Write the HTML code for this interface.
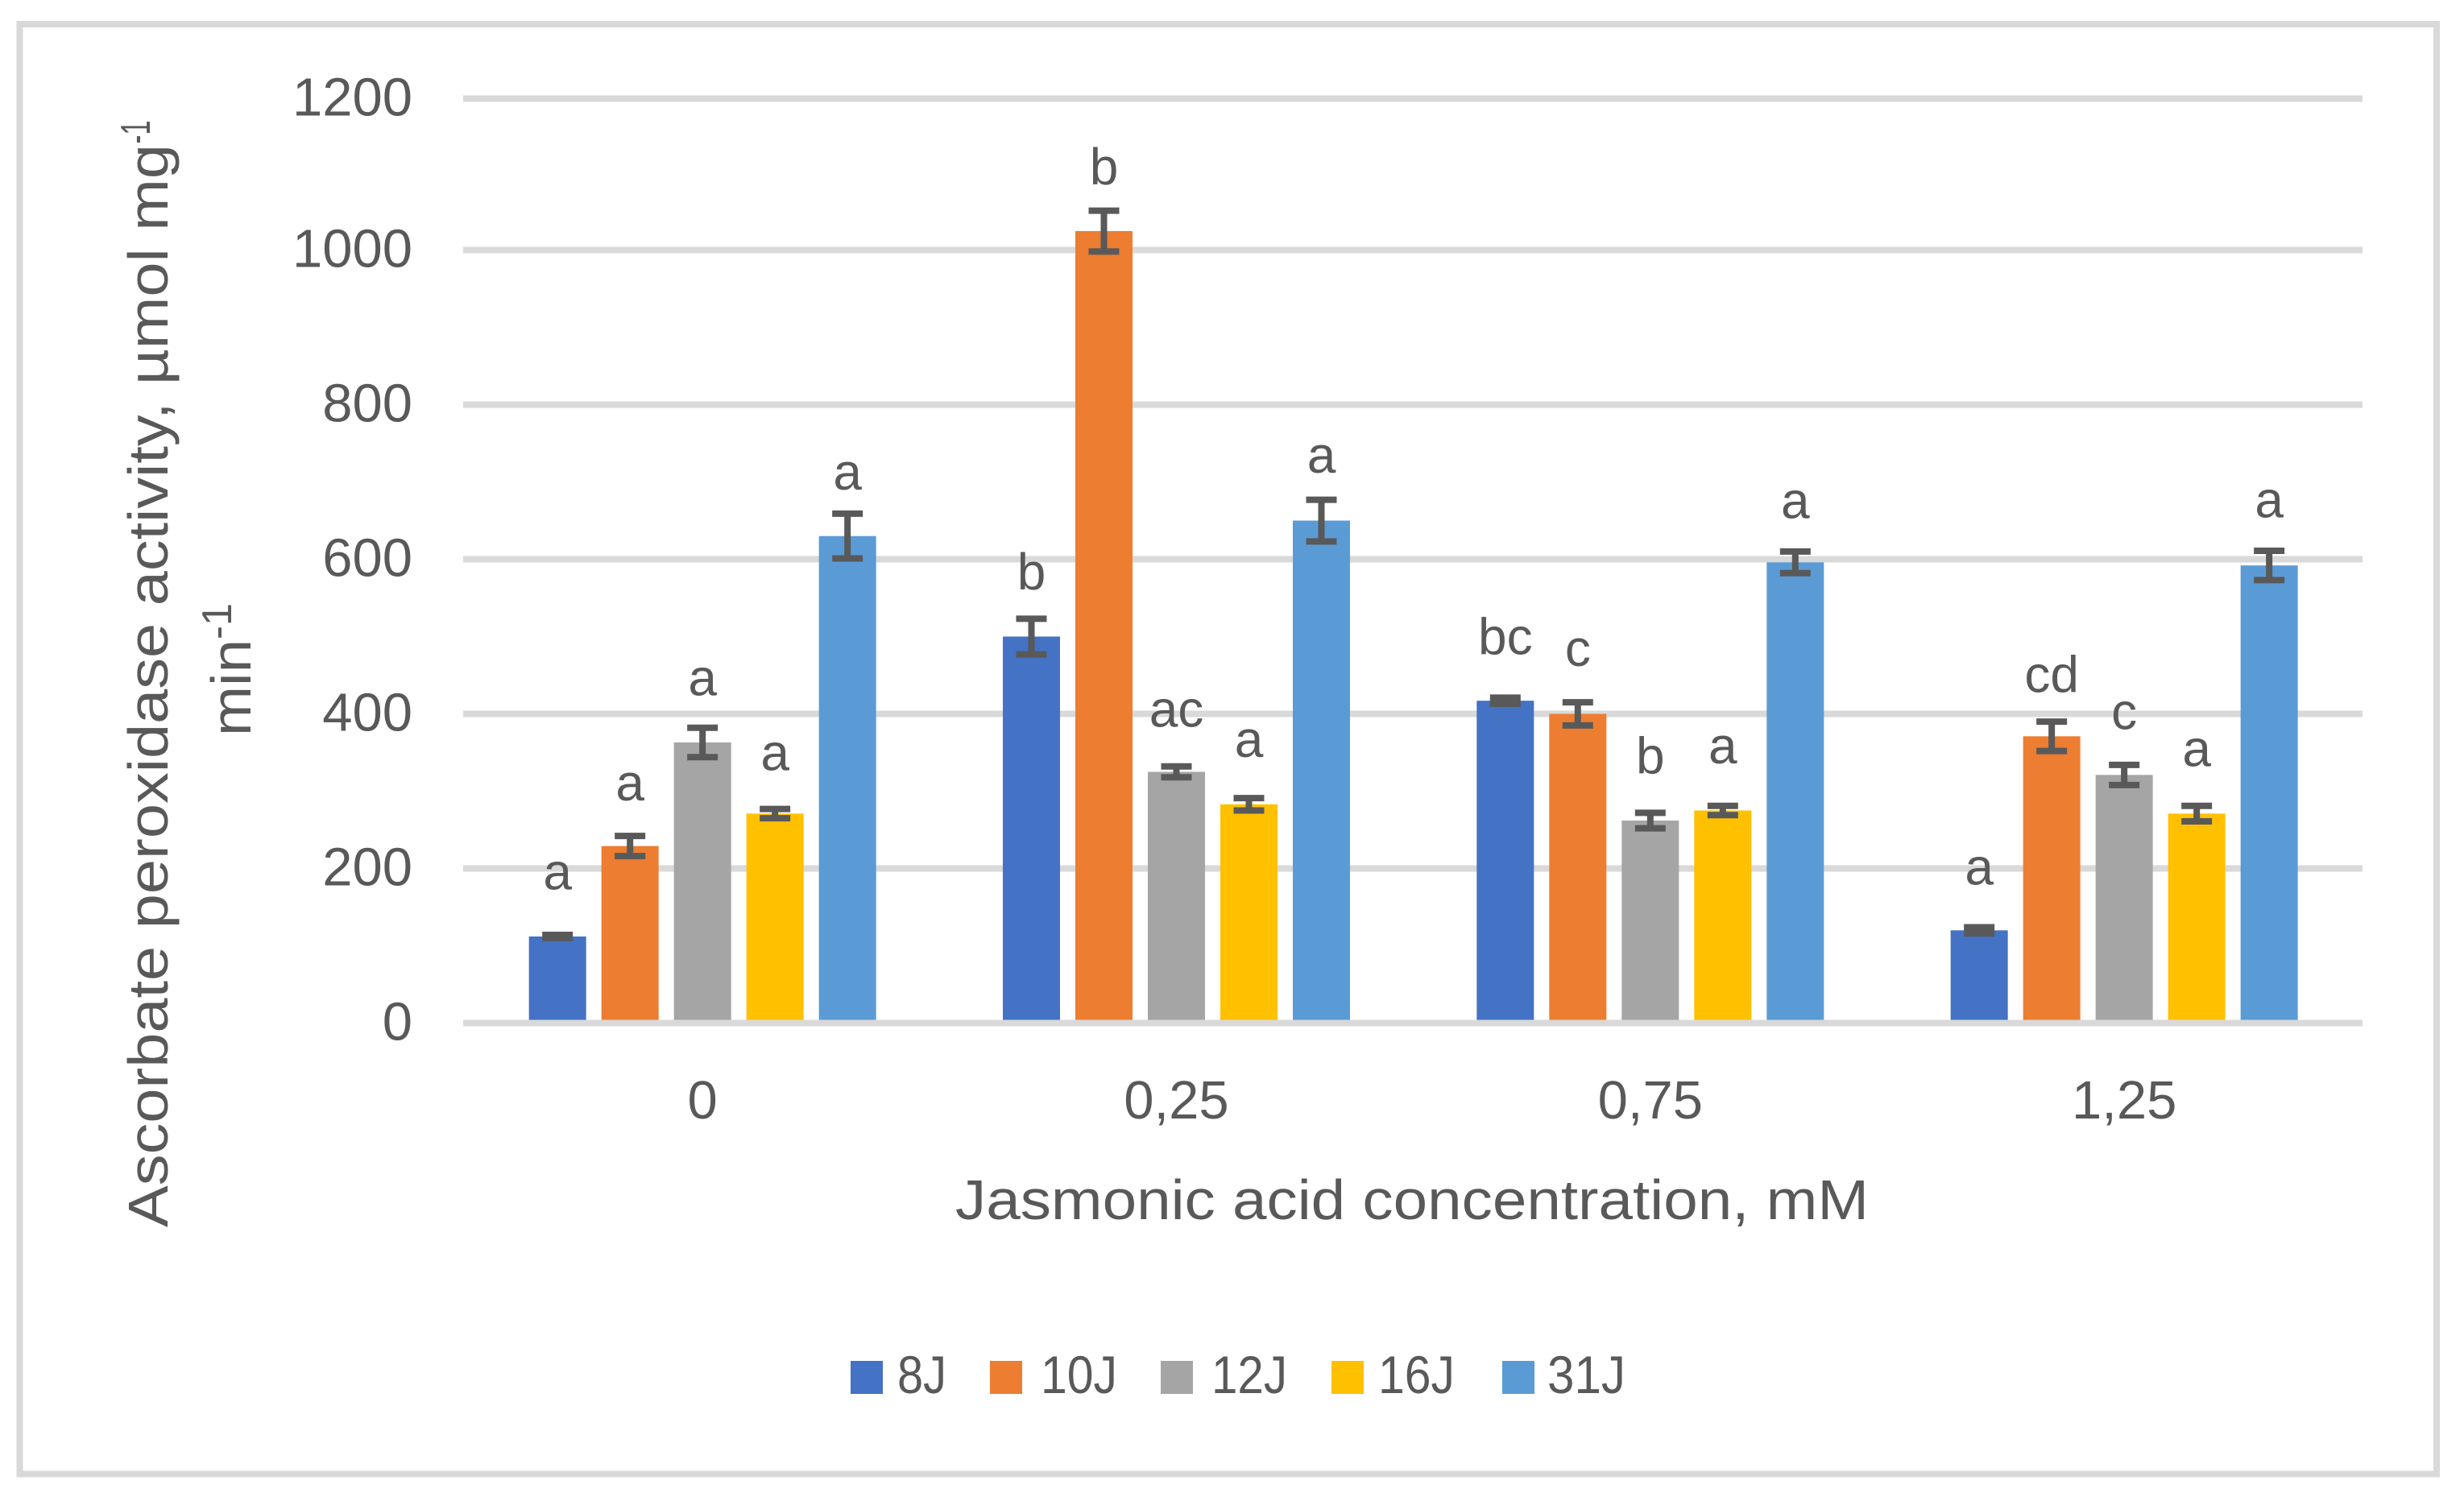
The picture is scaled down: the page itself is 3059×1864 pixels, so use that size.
<!DOCTYPE html>
<html lang="en">
<head>
<meta charset="utf-8">
<title>Ascorbate peroxidase activity chart</title>
<style>
html,body{margin:0;padding:0;background:#fff;}
svg{display:block;}
text{font-family:"Liberation Sans",sans-serif;fill:#595959;}
</style>
</head>
<body>
<svg id="chart" xmlns="http://www.w3.org/2000/svg" width="3059" height="1864" viewBox="0 0 3059 1864">
  <rect x="0" y="0" width="3059" height="1864" fill="#ffffff"/>
  <rect x="24.5" y="30" width="3000.5" height="1800.5" fill="none" stroke="#d9d9d9" stroke-width="8"/>
  <g id="grid"></g>
  <g id="bars"></g>
  <g id="axis"></g>
  <g id="errors"></g>
  <g id="letters"></g>
  <g id="yticks"></g>
  <g id="xticks"></g>

  <text transform="translate(208,1524) rotate(-90)" font-size="70" textLength="1345" lengthAdjust="spacingAndGlyphs">Ascorbate peroxidase activity, µmol mg</text>
  <text transform="translate(186,178.5) rotate(-90)" font-size="52" textLength="29" lengthAdjust="spacingAndGlyphs">-1</text>
  <text transform="translate(311,914) rotate(-90)" font-size="70" textLength="120" lengthAdjust="spacingAndGlyphs">min</text>
  <text transform="translate(287,794) rotate(-90)" font-size="52" textLength="45" lengthAdjust="spacingAndGlyphs">-1</text>
  <text x="1186" y="1514" font-size="70" textLength="1134" lengthAdjust="spacingAndGlyphs">Jasmonic acid concentration, mM</text>

  <g>
    <g>
      <rect x="1056" y="1690" width="40" height="41" fill="#4472c4"/>
      <text x="1114" y="1730" font-size="66" textLength="61" lengthAdjust="spacingAndGlyphs">8J</text>
    </g>
    <g>
      <rect x="1229" y="1690" width="40" height="41" fill="#ed7d31"/>
      <text x="1292" y="1730" font-size="66" textLength="95" lengthAdjust="spacingAndGlyphs">10J</text>
    </g>
    <g>
      <rect x="1441" y="1690" width="40" height="41" fill="#a5a5a5"/>
      <text x="1504" y="1730" font-size="66" textLength="94" lengthAdjust="spacingAndGlyphs">12J</text>
    </g>
    <g>
      <rect x="1653" y="1690" width="40" height="41" fill="#ffc000"/>
      <text x="1711" y="1730" font-size="66" textLength="95" lengthAdjust="spacingAndGlyphs">16J</text>
    </g>
    <g>
      <rect x="1865" y="1690" width="40" height="41" fill="#5b9bd5"/>
      <text x="1921" y="1730" font-size="66" textLength="97" lengthAdjust="spacingAndGlyphs">31J</text>
    </g>
  </g>
</svg>

<script>
// Data
const categories = ["0", "0,25", "0,75", "1,25"];
const seriesNames = ["8J", "10J", "12J", "16J", "31J"];
const yTicks = [0, 200, 400, 600, 800, 1000, 1200];

const values8J  = [112, 500, 417, 120];
const values10J = [229, 1025, 400, 371];
const values12J = [363, 325, 262, 321];
const values16J = [271, 283, 275, 271];
const values31J = [630, 650, 596, 592];

const errors8J  = [2, 23, 4, 4];
const errors10J = [13, 27, 15, 19];
const errors12J = [19, 7, 10, 13];
const errors16J = [6, 8, 6, 10];
const errors31J = [29, 27, 14, 19];

const letters8J  = ["a", "b", "bc", "a"];
const letters10J = ["a", "b", "c", "cd"];
const letters12J = ["a", "ac", "b", "c"];
const letters16J = ["a", "a", "a", "a"];
const letters31J = ["a", "a", "a", "a"];

// Height of each letter above its error bar, in axis units
const lift8J  = [55, 34, 52, 51];
const lift10J = [42, 30, 43, 34];
const lift12J = [38, 47, 47, 42];
const lift16J = [46, 49, 51, 47];
const lift31J = [27, 31, 39, 39];

const seriesValues = [values8J, values10J, values12J, values16J, values31J];
const seriesErrors = [errors8J, errors10J, errors12J, errors16J, errors31J];
const seriesLetters = [letters8J, letters10J, letters12J, letters16J, letters31J];
const seriesLift = [lift8J, lift10J, lift12J, lift16J, lift31J];
const seriesColors = ["#4472c4", "#ed7d31", "#a5a5a5", "#ffc000", "#5b9bd5"];

// Axis functions
const plotLeft = 575, plotRight = 2933;
const zeroY = 1270.5, pxPerUnit = 0.96, pxPerUnitTop = 0.94;
const bandStart = 578, bandWidth = 588.33;
const barPitch = 90, barWidth = 71;

// The source figure's top grid interval is slightly compressed
function yScale(v) {
  if (v <= 1000) return zeroY - v * pxPerUnit;
  return zeroY - 1000 * pxPerUnit - (v - 1000) * pxPerUnitTop;
}
function groupCenter(c) { return bandStart + (c + 0.5) * bandWidth; }
function barCenter(c, s) { return groupCenter(c) + (s - (seriesNames.length - 1) / 2) * barPitch; }

const NS = "http://www.w3.org/2000/svg";
function mk(parentId, tag, attrs, text) {
  const el = document.createElementNS(NS, tag);
  for (const k in attrs) el.setAttribute(k, attrs[k]);
  if (text !== undefined) el.textContent = text;
  document.getElementById(parentId).appendChild(el);
  return el;
}

// Gridlines and y ticks
yTicks.forEach(function (t) {
  const parent = t === 0 ? "axis" : "grid";
  const line = mk(parent, "line", { x1: plotLeft, x2: plotRight, y1: yScale(t), y2: yScale(t), stroke: "#d9d9d9", "stroke-width": 8 });
  
  
  const label = mk("yticks", "text", { x: 512, y: yScale(t) + 21, "font-size": 67, "text-anchor": "end" }, String(t));
  
  
});

// Category labels
categories.forEach(function (name, c) {
  const label = mk("xticks", "text", { x: groupCenter(c), y: 1389, "font-size": 67, "text-anchor": "middle" }, name);
  
  
});

// Bars, error bars, significance letters
seriesNames.forEach(function (series, s) {
  categories.forEach(function (cat, c) {
    const v = seriesValues[s][c];
    const e = seriesErrors[s][c];
    const cx = barCenter(c, s);

    const bar = mk("bars", "rect", { x: cx - barWidth / 2, y: yScale(v), width: barWidth, height: yScale(0) - yScale(v), fill: seriesColors[s] });
    
    

    const hi = yScale(v + e), lo = yScale(v - e);
    const err = mk("errors", "path", {
      d: "M" + (cx - 19) + " " + hi + "H" + (cx + 19) + "M" + cx + " " + hi + "V" + lo + "M" + (cx - 19) + " " + lo + "H" + (cx + 19),
      fill: "none", stroke: "#595959", "stroke-width": 8
    });
    
    

    const baseY = hi - 4 - seriesLift[s][c] * pxPerUnit;
    const letter = mk("letters", "text", { x: cx, y: baseY, "font-size": 64, "text-anchor": "middle" }, seriesLetters[s][c]);
    
    
  });
});
</script>
</body>
</html>
